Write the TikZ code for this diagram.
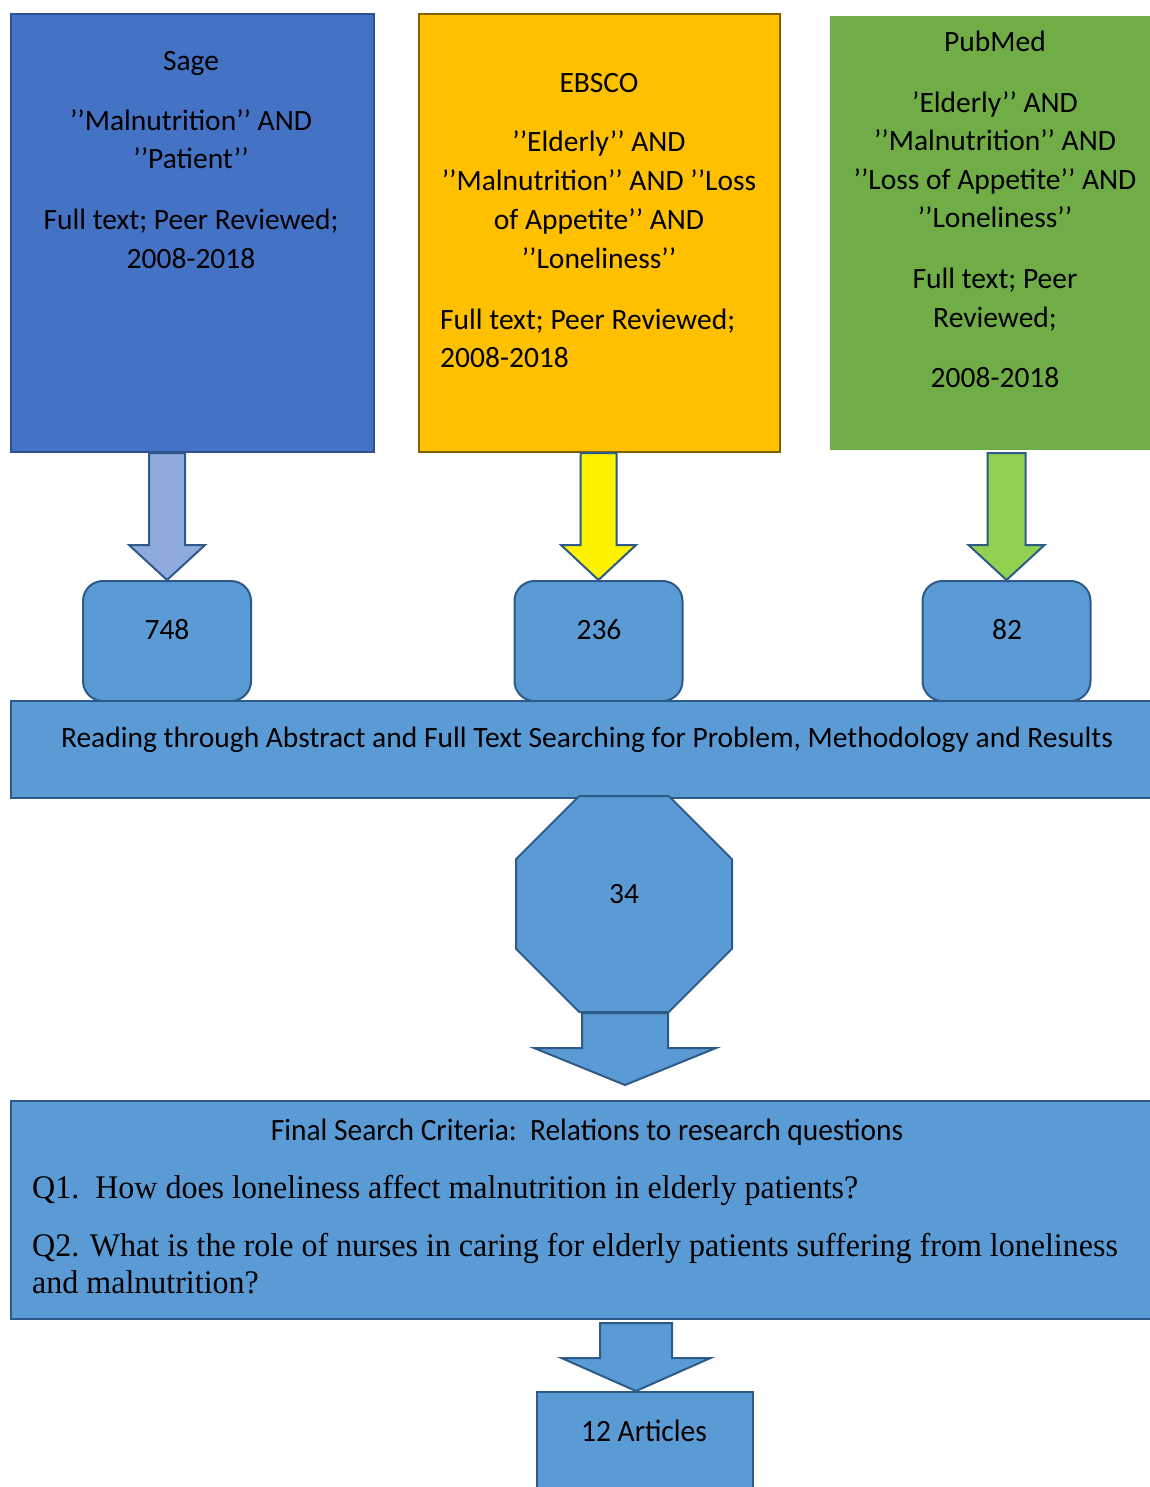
\documentclass[tikz,border=0pt]{standalone}
\usepackage{fontspec}
\setmainfont{Carlito}
\newfontfamily\condfont[FakeStretch=0.95]{Carlito}
\newfontfamily\qfont[FakeStretch=0.97]{Liberation Serif}
\usetikzlibrary{calc,shapes.geometric}
\definecolor{sagefill}{HTML}{4472C4}
\definecolor{sageline}{HTML}{2F528F}
\definecolor{ebfill}{HTML}{FFC000}
\definecolor{ebline}{HTML}{7F6000}
\definecolor{pubfill}{HTML}{70AD47}
\definecolor{bluefill}{HTML}{5B9BD5}
\definecolor{blueline}{HTML}{2E5A88}
\definecolor{sagearrow}{HTML}{8FAADC}
\definecolor{pubarrow}{HTML}{92D050}
\newcommand\blkarrow[6]{\draw[#1] let \p1=(#2), \p2=(#3) in (\x2-#4,\y1) -- (\x2+#4,\y1) -- (\x2+#4,\y2+#6) -- (\x2+#5,\y2+#6) -- (\x2,\y2) -- (\x2-#5,\y2+#6) -- (\x2-#4,\y2+#6) -- cycle;}
\tikzset{
  txt/.style={inner sep=0pt, anchor=base, font=\fontsize{29.5}{39}\selectfont},
  ltxt/.style={txt, anchor=base west},
  qtxt/.style={inner sep=0pt, anchor=base west, font=\qfont\fontsize{33}{37}\selectfont},
  ctxt/.style={inner sep=0pt, anchor=base, font=\condfont\fontsize{31}{39}\selectfont},
  box/.style={inner sep=0pt, anchor=north west, line width=2pt},
  bluebox/.style={box, draw=blueline, fill=bluefill},
  roundbox/.style={bluebox, anchor=north, rounded corners=20pt, minimum width=168pt, minimum height=120pt},
  blkarr/.style={draw=blueline, line width=2pt, line join=miter},
}
\begin{document}
\begin{tikzpicture}[x=1pt,y=-1pt]
\useasboundingbox (0,0) rectangle (1149,1487);
\fill[white] (0,0) rectangle (1149,1487);
% source boxes
\node[box, draw=sageline, fill=sagefill, minimum width=363pt, minimum height=438pt] (sage) at (10,13) {};
\node[box, draw=ebline, fill=ebfill, minimum width=361pt, minimum height=438pt] (ebsco) at (418,13) {};
\node[box, fill=pubfill, minimum width=330pt, minimum height=434pt] (pubmed) at (829,15) {};
% Sage text
\node[txt] (s1) at (191,71) {Sage};
\node[txt] (s2) at (191,131) {’’Malnutrition’’ AND};
\node[txt] (s3) at (191,169) {’’Patient’’};
\node[txt] (s4) at (191,230) {Full text; Peer Reviewed;};
\node[txt] (s5) at (191,269) {2008-2018};
% EBSCO text
\node[txt] (e1) at (599,93) {EBSCO};
\node[txt] (e2) at (599,152) {’’Elderly’’ AND};
\node[txt] (e3) at (599,191) {’’Malnutrition’’ AND ’’Loss};
\node[txt] (e4) at (599,230) {of Appetite’’ AND};
\node[txt] (e5) at (599,269) {’’Loneliness’’};
\node[ltxt] (e6) at (440,329) {Full text; Peer Reviewed;};
\node[ltxt] (e7) at (440,367) {2008-2018};
% PubMed text
\node[txt] (p1) at (995,52) {PubMed};
\node[txt] (p2) at (995,113) {’Elderly’’ AND};
\node[txt] (p3) at (995,151) {’’Malnutrition’’ AND};
\node[txt] (p4) at (995,190) {’’Loss of Appetite’’ AND};
\node[txt] (p5) at (995,228) {’’Loneliness’’};
\node[txt] (p6) at (995,289) {Full text; Peer};
\node[txt] (p7) at (995,327) {Reviewed;};
\node[txt] (p8) at (995,387) {2008-2018};
% count boxes
\node[roundbox] (n748) at (167,580) {};
\node[roundbox] (n236) at (598.5,580) {};
\node[roundbox] (n82) at (1006.5,580) {};
\node[txt] (t748) at (167,639) {748};
\node[txt] (t236) at (599,639) {236};
\node[txt] (t82) at (1007,639) {82};
% arrows from sources
\blkarrow{blkarr, fill=sagearrow}{n748.north |- sage.south}{n748.north}{18pt}{38pt}{35pt}
\blkarrow{blkarr, fill=yellow}{n236.north |- ebsco.south}{n236.north}{18pt}{37.5pt}{35pt}
\blkarrow{blkarr, fill=pubarrow}{n82.north |- ebsco.south}{n82.north}{19pt}{38pt}{35pt}
% reading bar
\node[bluebox, minimum width=1142pt, minimum height=97pt] (read) at (10,700) {};
\node[txt] (tread) at (587,747) {Reading through Abstract and Full Text Searching for Problem, Methodology and Results};
% octagon
\node[regular polygon, regular polygon sides=8, draw=blueline, fill=bluefill, line width=2pt, inner sep=0pt, minimum size=233.8pt] (oct) at (624,904) {};
\node[txt] (t34) at (624,903) {34};
\coordinate (octtip) at (625,1085);
\blkarrow{blkarr, fill=bluefill}{octtip |- oct.south}{octtip}{43pt}{91pt}{37pt}
% final box
\node[bluebox, minimum width=1142pt, minimum height=218pt] (final) at (10,1100) {};
\node[ctxt] (f1) at (587,1140) {Final Search Criteria:\ \ Relations to research questions};
\node[qtxt] (q1) at (32,1198) {Q1.\ \ How does loneliness affect malnutrition in elderly patients?};
\node[qtxt] (q2) at (32,1256) {Q2. What is the role of nurses in caring for elderly patients suffering from loneliness};
\node[qtxt] (q3) at (32,1293) {and malnutrition?};
% articles
\node[bluebox, minimum width=216pt, minimum height=120pt] (art) at (536,1391) {};
\coordinate (arttip) at (636,1391);
\coordinate (arttop) at (636,1323);
\blkarrow{blkarr, fill=bluefill}{arttop}{arttip}{36pt}{74.5pt}{33pt}
\node[ctxt] (tart) at (644,1441) {12 Articles};
\end{tikzpicture}
\end{document}
